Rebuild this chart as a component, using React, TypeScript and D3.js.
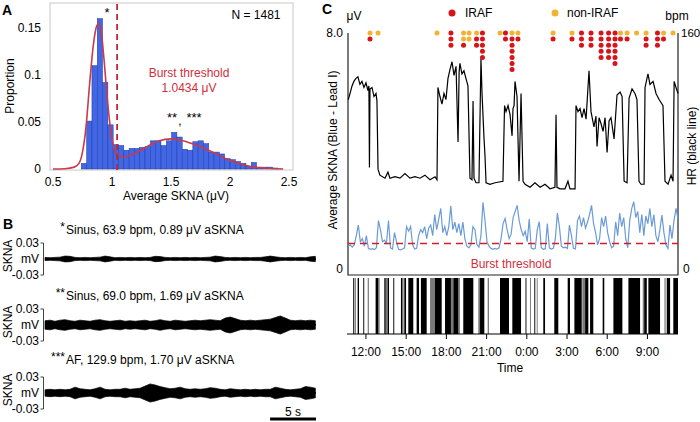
import * as d3 from "d3";

const FONT = "Arial, 'Liberation Sans', Helvetica, sans-serif";
const FS = 12;

// ---------- Panel A: distribution of average SKNA ----------
const binStart = 0.74;
const binWidth = 0.045;
const binProportion = [
  0.006, 0.051, 0.11, 0.16, 0.092, 0.047, 0.026, 0.025, 0.02, 0.022, 0.022,
  0.023, 0.024, 0.03, 0.03, 0.025, 0.03, 0.039, 0.034, 0.021, 0.02, 0.029,
  0.03, 0.027, 0.018, 0.018, 0.016, 0.011, 0.01, 0.008, 0.006, 0.003, 0.007,
  0.002, 0.002, 0.002, 0.001,
];
const kdeX = [
  0.5, 0.6, 0.68, 0.72, 0.75, 0.78, 0.81, 0.84, 0.87, 0.89, 0.91, 0.93, 0.95,
  0.97, 1.0, 1.03, 1.06, 1.1, 1.2, 1.3, 1.4, 1.5, 1.6, 1.7, 1.8, 1.9, 2.0, 2.1,
  2.2, 2.3, 2.45,
];
const kdeY = [
  0, 0.0003, 0.002, 0.006, 0.018, 0.045, 0.09, 0.13, 0.152, 0.155, 0.145, 0.12,
  0.09, 0.062, 0.032, 0.018, 0.014, 0.013, 0.017, 0.024, 0.03, 0.032, 0.03,
  0.026, 0.021, 0.015, 0.009, 0.005, 0.002, 0.001, 0,
];
const burstThreshold = 1.0434;
const xTicksA = [0.5, 1, 1.5, 2, 2.5];
const yTicksA = [0, 0.05, 0.1, 0.15];

// ---------- Panel B: raw SKNA envelopes (half amplitude, mV) ----------
const traceStepS = 0.545;
const traceStars = ["*", "**", "***"];
const traceLabels = [
  "Sinus, 63.9 bpm, 0.89 μV aSKNA",
  "Sinus, 69.0 bpm, 1.69 μV aSKNA",
  "AF, 129.9 bpm, 1.70 μV aSKNA",
];
const envSinusLow = [
  0.003, 0.0025, 0.003, 0.0035, 0.0055, 0.005, 0.003, 0.0025, 0.003, 0.0025,
  0.003, 0.0035, 0.0055, 0.004, 0.0025, 0.003, 0.0025, 0.003, 0.0025, 0.003,
  0.0025, 0.003, 0.005, 0.0045, 0.003, 0.0025, 0.003, 0.0025, 0.003, 0.0025,
  0.003, 0.0025, 0.003, 0.0035, 0.0055, 0.0045, 0.003, 0.0025, 0.003, 0.0025,
  0.003, 0.0025, 0.003, 0.003, 0.004, 0.0055, 0.004, 0.003, 0.0025, 0.003,
  0.0025, 0.003, 0.0025, 0.004, 0.005,
];
const envSinusHigh = [
  0.008, 0.009, 0.007, 0.009, 0.01, 0.008, 0.007, 0.009, 0.008, 0.007, 0.009,
  0.01, 0.008, 0.007, 0.008, 0.009, 0.007, 0.008, 0.007, 0.008, 0.009, 0.007,
  0.008, 0.01, 0.008, 0.007, 0.009, 0.008, 0.007, 0.008, 0.009, 0.008, 0.009,
  0.01, 0.009, 0.008, 0.013, 0.015, 0.012, 0.009, 0.008, 0.009, 0.008, 0.009,
  0.01, 0.011, 0.014, 0.017, 0.013, 0.009, 0.008, 0.009, 0.008, 0.009, 0.008,
];
const envAF = [
  0.006, 0.007, 0.006, 0.007, 0.006, 0.007, 0.011, 0.008, 0.007, 0.006, 0.008,
  0.011, 0.007, 0.006, 0.007, 0.007, 0.009, 0.007, 0.008, 0.009, 0.013, 0.017,
  0.015, 0.012, 0.01, 0.008, 0.009, 0.011, 0.008, 0.007, 0.008, 0.007, 0.008,
  0.01, 0.009, 0.007, 0.006, 0.008, 0.007, 0.006, 0.007, 0.006, 0.007, 0.006,
  0.007, 0.007, 0.011, 0.009, 0.007, 0.006, 0.007, 0.008, 0.012, 0.011, 0.009,
];
const traceEnvelopes = [envSinusLow, envSinusHigh, envAF];

// ---------- Panel C: 24 h recording (hours of day, >24 = next day) ----------
const hrTime = [
  10.68, 10.81, 10.96, 11.1, 11.25, 11.4, 11.55, 11.7, 11.85, 12.0, 12.15,
  12.22, 12.26, 12.3, 12.45, 12.6, 12.75, 12.82, 12.9, 13.04, 13.42, 13.64,
  13.79, 14.16, 14.54, 14.91, 15.28, 15.66, 16.03, 16.4, 16.78, 17.15, 17.3,
  17.37, 17.52, 17.67, 17.82, 17.97, 18.12, 18.27, 18.42, 18.57, 18.72, 18.87,
  18.95, 19.01, 19.16, 19.31, 19.46, 19.61, 19.76, 19.91, 19.99, 20.06, 20.21,
  20.43, 20.58, 20.66, 20.81, 20.88, 20.96, 21.25, 21.63, 22.22, 22.34, 22.45,
  22.6, 22.75, 22.9, 22.97, 23.05, 23.12, 23.27, 23.42, 23.57, 23.72, 23.87,
  24.24, 24.61, 24.99, 25.36, 25.73, 26.1, 26.18, 26.25, 26.48, 26.85, 27.07,
  27.22, 27.6, 27.67, 27.82, 27.97, 28.12, 28.27, 28.42, 28.64, 28.79, 29.01,
  29.16, 29.24, 29.39, 29.54, 29.69, 29.84, 29.99, 30.14, 30.28, 30.51, 30.73,
  30.96, 31.11, 31.26, 31.48, 31.63, 31.85, 32.07, 32.22, 32.37, 32.52, 32.75,
  32.82, 33.04, 33.19, 33.42, 33.64, 33.87, 34.16, 34.31, 34.54, 34.76, 34.91,
  34.99, 35.13, 35.28,
];
const hrBpm = [
  116, 120, 125, 128, 130, 131, 126, 128, 124, 127, 122, 125, 71, 123, 124, 118,
  120, 115, 70, 66, 64, 68, 64, 65, 64, 67, 64, 65, 64, 66, 63, 65, 63, 124,
  118, 113, 120, 116, 130, 136, 141, 132, 138, 88, 134, 140, 133, 135, 130, 125,
  64, 63, 115, 64, 61, 61, 143, 120, 90, 79, 61, 60, 61, 62, 112, 108, 112, 106,
  92, 110, 112, 128, 118, 62, 120, 62, 60, 58, 61, 58, 60, 57, 58, 106, 58, 57,
  57, 62, 57, 57, 112, 108, 110, 104, 110, 103, 135, 108, 98, 105, 85, 104, 100,
  95, 104, 81, 102, 104, 90, 119, 121, 118, 62, 61, 117, 123, 120, 116, 62, 60,
  60, 124, 133, 126, 128, 120, 116, 112, 62, 60, 66, 62, 128, 124, 120,
];
const sknaStart = 10.68;
const sknaStep = 0.15;
const sknaValues = [
  0.95, 0.99, 0.92, 1.0, 1.3, 1.65, 1.1, 1.2, 0.95, 1.3,
  0.88, 0.85, 0.87, 0.84, 0.9, 1.8, 1.5, 1.1, 1.15, 1.05,
  1.8, 0.9, 0.86, 1.4, 1.1, 0.85, 0.83, 0.86, 0.9, 1.6,
  1.45, 1.6, 1.0, 0.86, 0.88, 1.3, 1.5, 1.4, 1.6, 1.2,
  1.55, 1.65, 1.3, 2.0, 1.5, 1.85, 2.2, 1.4, 1.6, 1.3,
  1.6, 2.28, 1.5, 1.75, 1.4, 1.7, 1.3, 1.75, 1.2, 0.95,
  0.9, 1.0, 1.6, 1.5, 1.0, 0.92, 1.3, 2.4, 1.8, 1.1,
  0.95, 0.88, 0.85, 0.88, 0.86, 0.9, 1.2, 1.7, 1.87, 1.5,
  1.2, 1.35, 1.9, 2.1, 2.3, 1.8, 1.5, 1.3, 1.45, 1.1,
  1.85, 0.9, 0.86, 0.88, 1.5, 1.76, 0.9, 0.85, 0.87, 1.7,
  0.9, 0.86, 0.88, 1.2, 2.05, 1.6, 0.95, 0.9, 0.92, 0.88,
  1.65, 1.3, 0.88, 0.86, 1.8, 1.95, 1.6, 1.9, 1.55, 1.75,
  2.0, 2.3, 1.7, 1.4, 1.0, 1.2, 1.9, 1.6, 1.95, 1.4,
  1.1, 0.9, 0.95, 1.76, 1.3, 2.05, 1.6, 1.9, 1.2, 0.9,
  1.8, 2.2, 2.42, 1.9, 2.1, 1.4, 2.0, 1.3, 1.95, 1.7,
  2.2, 1.6, 2.0, 1.3, 1.1, 1.5, 1.98, 1.4, 1.0, 0.88,
  1.65, 1.2, 1.8, 2.2, 1.85,
];
// AF episode bar code: black and grey intervals [start, end] in hours
const afBlack = [
  [11.05, 11.13], [11.38, 11.48], [11.8, 11.87], [12.72, 12.92], [13.37, 13.47],
  [13.62, 13.72], [14.04, 14.11], [14.61, 14.71], [14.86, 14.99], [15.16, 15.53],
  [15.78, 15.96], [16.1, 16.53], [17.15, 17.65], [17.9, 18.34], [18.52, 18.89],
  [19.26, 20.01], [20.51, 20.83], [22.0, 22.67], [22.92, 23.57], [24.56, 24.63],
  [25.23, 25.36], [26.05, 26.35], [27.05, 27.22], [27.55, 28.1], [28.35, 28.59],
  [28.72, 28.96], [29.66, 29.78], [30.46, 31.13], [31.58, 32.45], [32.77, 32.95],
  [33.07, 33.94], [34.44, 34.69], [34.93, 35.28],
];
const afGray = [
  [11.18, 11.25], [12.13, 12.22], [12.92, 13.02], [13.47, 13.62], [14.71, 14.81],
  [16.78, 17.15], [18.34, 18.52], [18.89, 19.01], [20.38, 20.51], [21.08, 21.18],
  [23.87, 24.0], [24.24, 24.31], [24.74, 24.81], [28.14, 28.35], [30.81, 30.88],
  [32.65, 32.82], [34.27, 34.36],
];
// stacked episode markers: non-IRAF (top) then IRAF
const dotTime = [
  12.3, 12.9, 17.3, 18.34, 19.28, 19.69, 20.25, 20.69, 22.0, 22.41, 22.9, 23.34,
  25.96, 27.37, 28.08, 28.79, 29.54, 30.1, 30.58, 30.99, 31.48, 32.19, 32.9,
  33.75, 34.2, 34.91,
];
const dotNonIraf = [1, 1, 1, 0, 2, 2, 1, 0, 1, 0, 1, 1, 1, 1, 0, 0, 0, 0, 0, 1, 1, 1, 1, 0, 1, 1];
const dotIraf = [1, 0, 0, 3, 1, 0, 2, 5, 0, 2, 6, 1, 1, 1, 3, 3, 5, 5, 6, 1, 1, 0, 2, 3, 1, 0];
const timeTicks = [12, 15, 18, 21, 24, 27, 30, 33];

const RED = "#d7141a";
const ORANGE = "#f1b332";

export default function App() {
  // ---- A scales
  const xA = d3.scaleLinear().domain([0.5, 2.5]).range([53, 289]);
  const yA = d3.scaleLinear().domain([0, 0.15]).range([169, 28]);
  const kdePath = d3
    .line<number>()
    .x((_, i) => xA(kdeX[i]))
    .y((d) => yA(d))
    .curve(d3.curveMonotoneX)(kdeY);

  // ---- B scales
  const xB = d3.scaleLinear().domain([0, 29.5]).range([45, 316]);
  const traceCenters = [259, 325, 393];

  // ---- C scales
  const xC = d3.scaleLinear().domain([10.66, 35.28]).range([348, 678]);
  const yS = d3.scaleLinear().domain([0, 8]).range([275, 33]);
  const yH = d3.scaleLinear().domain([0, 160]).range([275, 33]);
  const hrPath = d3
    .line<number>()
    .x((_, i) => xC(hrTime[i]))
    .y((d) => yH(d))(hrBpm);
  const sknaPath = d3
    .line<number>()
    .x((_, i) => xC(sknaStart + i * sknaStep))
    .y((d) => yS(d))(sknaValues);

  return (
    <svg
      width={700}
      height={422}
      style={{ position: "absolute", left: 0, top: 0, fontFamily: FONT }}
    >
      <rect width={700} height={422} fill="#fff" />

      {/* ================= A ================= */}
      <text x={2} y={15} fontSize={14} fontWeight="bold">A</text>
      <rect x={50} y={3} width={243} height={167} fill="none" stroke="#c8c8c8" />
      {binProportion.map((p, i) => {
        const x0 = xA(binStart + i * binWidth);
        const x1 = xA(binStart + (i + 1) * binWidth);
        return (
          <rect
            key={i}
            x={x0}
            y={yA(p)}
            width={x1 - x0}
            height={yA(0) - yA(p)}
            fill="#4166e6"
            stroke="#233c9c"
            strokeWidth={0.5}
          />
        );
      })}
      <path d={kdePath ?? ""} fill="none" stroke="#c83a4c" strokeWidth={1.6} />
      <line
        x1={xA(burstThreshold)}
        x2={xA(burstThreshold)}
        y1={4}
        y2={170}
        stroke="#c4243a"
        strokeWidth={1.8}
        strokeDasharray="6,4"
      />
      {xTicksA.map((t) => (
        <text key={t} x={xA(t)} y={186} fontSize={FS} textAnchor="middle">
          {t}
        </text>
      ))}
      {yTicksA.map((t) => (
        <text key={t} x={41} y={yA(t) + 4} fontSize={FS} textAnchor="end">
          {t}
        </text>
      ))}
      <text x={176} y={200} fontSize={FS} textAnchor="middle">Average SKNA (μV)</text>
      <text transform="translate(14,86) rotate(-90)" fontSize={FS} textAnchor="middle">
        Proportion
      </text>
      <text x={107} y={17} fontSize={13} textAnchor="middle">*</text>
      <text x={172} y={122} fontSize={13} textAnchor="middle">**</text>
      <text x={180} y={125} fontSize={12} textAnchor="middle">,</text>
      <text x={194} y={122} fontSize={13} textAnchor="middle">***</text>
      <text x={189} y={77} fontSize={FS} textAnchor="middle" fill="#d22d3c">Burst threshold</text>
      <text x={189} y={92} fontSize={FS} textAnchor="middle" fill="#d22d3c">1.0434 μV</text>
      <text x={256} y={19} fontSize={FS} textAnchor="middle">N = 1481</text>

      {/* ================= B ================= */}
      <text x={3} y={229} fontSize={14} fontWeight="bold">B</text>
      {traceEnvelopes.map((env, k) => {
        const cy = traceCenters[k];
        const yB = d3.scaleLinear().domain([-0.03, 0.03]).range([cy + 16, cy - 16]);
        const area = d3
          .area<number>()
          .x((_, i) => xB(i * traceStepS))
          .y0((d) => yB(-d))
          .y1((d) => yB(d))(env);
        const labelY = [234, 300, 364][k];
        return (
          <g key={k}>
            <text x={65} y={labelY - 3} fontSize={12} textAnchor="end">
              {traceStars[k]}
            </text>
            <text x={66} y={labelY} fontSize={FS}>{traceLabels[k]}</text>
            <path
              d={`M40.5,${yB(0.03)}H43.5V${yB(-0.03)}H40.5`}
              fill="none"
              stroke="#444"
              strokeWidth={1}
            />
            <text x={39} y={yB(0.03) + 4} fontSize={FS} textAnchor="end">0.03</text>
            <text x={39} y={yB(0) + 4} fontSize={FS} textAnchor="end">mV</text>
            <text x={39} y={yB(-0.03) + 4} fontSize={FS} textAnchor="end">-0.03</text>
            <text
              transform={`translate(12,${cy - 3}) rotate(-90)`}
              fontSize={FS}
              textAnchor="middle"
            >
              SKNA
            </text>
            <line x1={45} x2={316} y1={yB(0)} y2={yB(0)} stroke="#000" strokeWidth={1.5} />
            <path d={area ?? ""} fill="#000" stroke="#000" strokeWidth={0.7} />
          </g>
        );
      })}
      <line x1={xB(24.5)} x2={xB(29.5)} y1={419} y2={419} stroke="#000" strokeWidth={3} />
      <text x={xB(27)} y={416} fontSize={FS} textAnchor="middle">5 s</text>

      {/* ================= C ================= */}
      <text x={322} y={14} fontSize={14} fontWeight="bold">C</text>
      <circle cx={452} cy={13} r={3.5} fill={RED} />
      <text x={465} y={17} fontSize={FS}>IRAF</text>
      <circle cx={555} cy={13} r={3.5} fill={ORANGE} />
      <text x={567} y={17} fontSize={FS}>non-IRAF</text>

      <text x={354} y={20} fontSize={FS} textAnchor="middle">μV</text>
      <text x={677} y={20} fontSize={FS} textAnchor="middle">bpm</text>
      <text x={343} y={37} fontSize={FS} textAnchor="end">8.0</text>
      <text x={343} y={273} fontSize={FS} textAnchor="end">0</text>
      <text x={681} y={37} fontSize={11.5}>160</text>
      <text x={683} y={273} fontSize={FS}>0</text>
      <text transform="translate(337,150) rotate(-90)" fontSize={FS} textAnchor="middle">
        Average SKNA (Blue - Lead I)
      </text>
      <text transform="translate(696,146) rotate(-90)" fontSize={FS} textAnchor="middle">
        HR (black line)
      </text>

      <path d={`M348,${yS(8)}V275H678V${yH(160)}`} fill="none" stroke="#222" strokeWidth={1.2} />

      <path d={sknaPath ?? ""} fill="none" stroke="#6b9bd6" strokeWidth={1.2} />
      <line
        x1={348}
        x2={678}
        y1={yS(burstThreshold)}
        y2={yS(burstThreshold)}
        stroke="#d0202e"
        strokeWidth={1.5}
        strokeDasharray="7,5"
      />
      <path d={hrPath ?? ""} fill="none" stroke="#000" strokeWidth={1.2} />
      <text x={511} y={268} fontSize={FS} textAnchor="middle" fill="#d22d3c">
        Burst threshold
      </text>

      {dotTime.map((t, i) => {
        const cx = xC(t);
        const marks: string[] = [];
        for (let n = 0; n < dotNonIraf[i]; n++) marks.push(ORANGE);
        for (let n = 0; n < dotIraf[i]; n++) marks.push(RED);
        return (
          <g key={i}>
            {marks.map((c, r) => (
              <circle key={r} cx={cx} cy={33 + r * 6.1} r={2.5} fill={c} />
            ))}
          </g>
        );
      })}

      {afGray.map(([s, e], i) => (
        <rect
          key={`g${i}`}
          x={xC(s)}
          y={278}
          width={Math.max(xC(e) - xC(s), 0.8)}
          height={56}
          fill="#7a7a7a"
        />
      ))}
      {afBlack.map(([s, e], i) => (
        <rect
          key={`b${i}`}
          x={xC(s)}
          y={278}
          width={Math.max(xC(e) - xC(s), 0.8)}
          height={56}
          fill="#000"
        />
      ))}
      <line x1={347} x2={678} y1={334} y2={334} stroke="#000" strokeWidth={1.2} />
      {timeTicks.map((t) => (
        <g key={t}>
          <line x1={xC(t)} x2={xC(t)} y1={334} y2={339} stroke="#000" />
          <text x={xC(t)} y={356} fontSize={FS} textAnchor="middle">
            {`${t % 24}:00`}
          </text>
        </g>
      ))}
      <text x={510} y={372} fontSize={FS} textAnchor="middle">Time</text>
    </svg>
  );
}
